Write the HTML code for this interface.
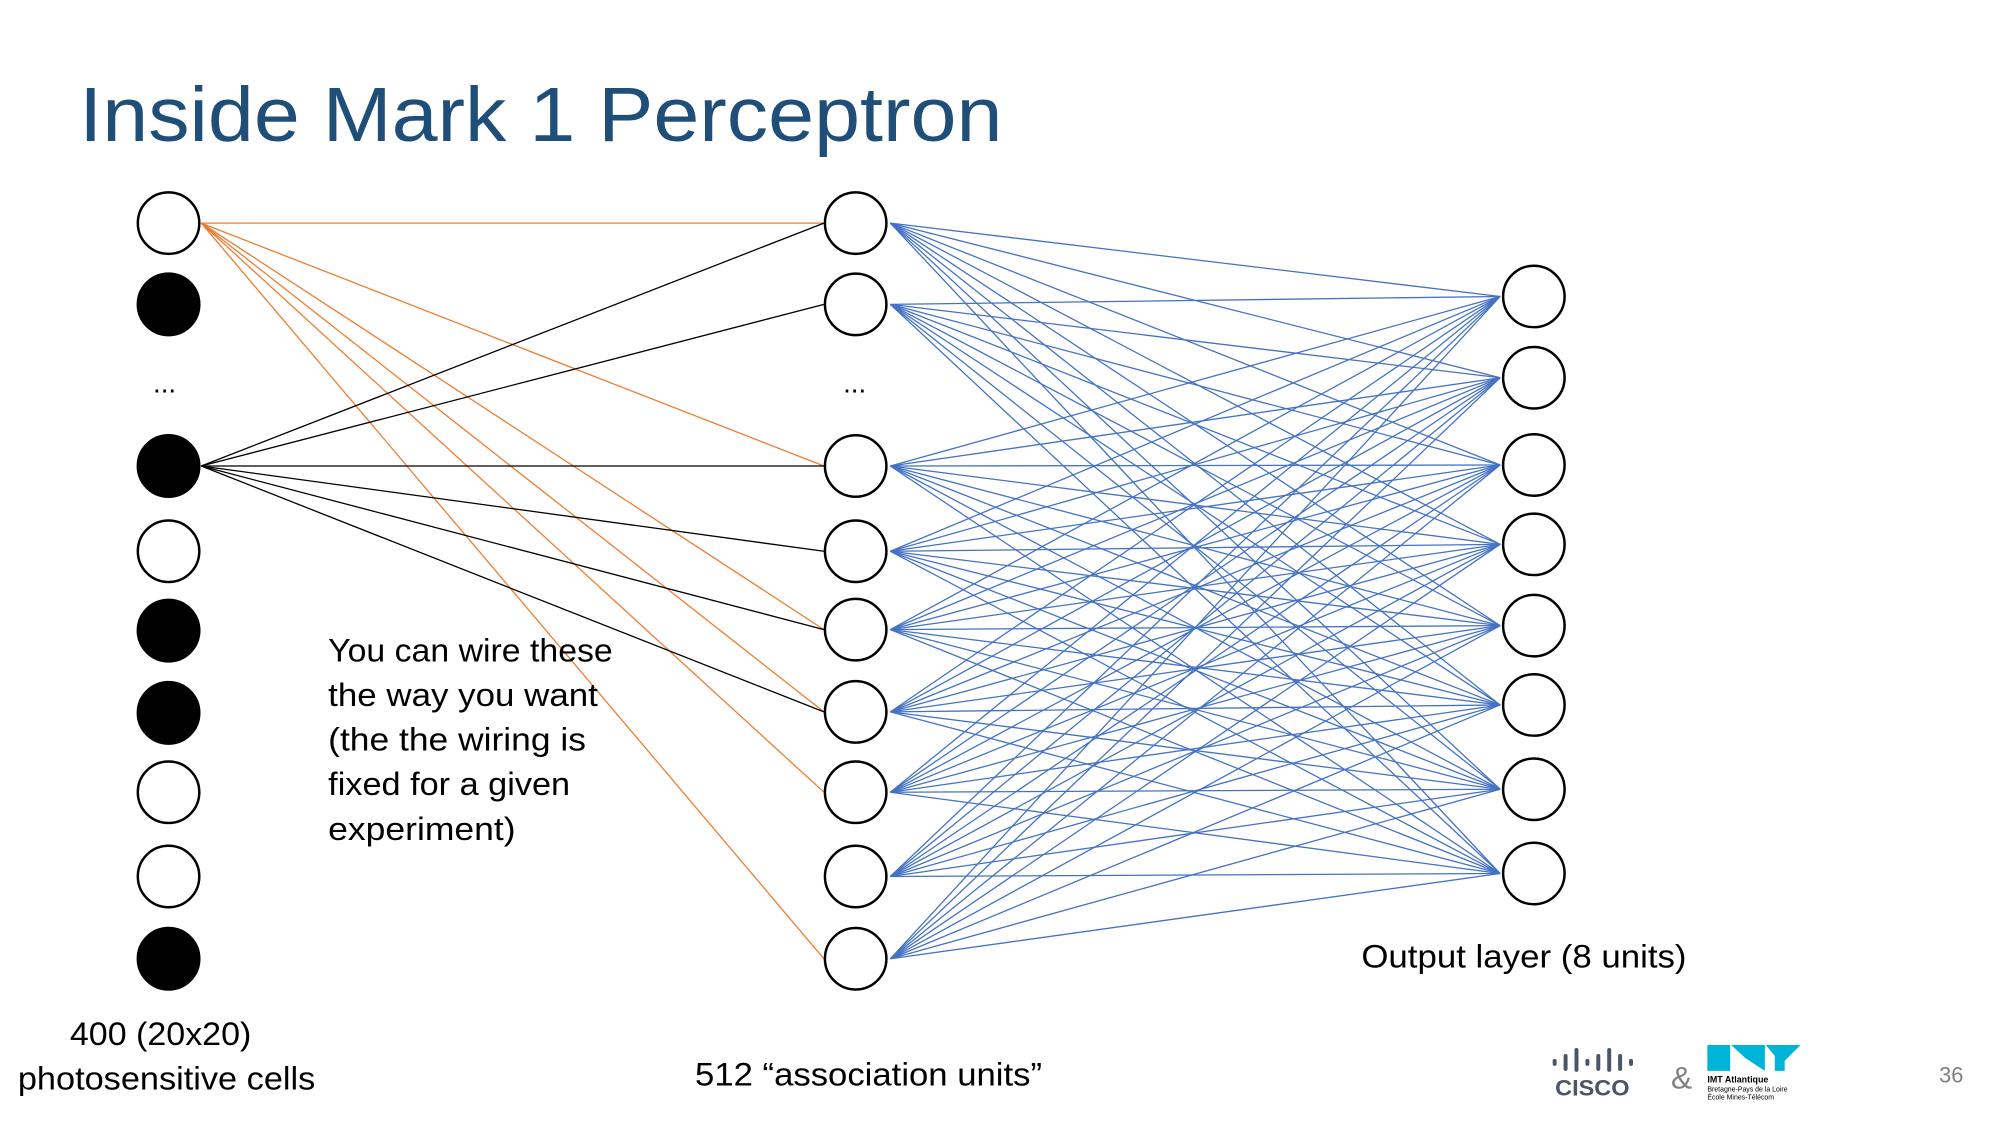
<!DOCTYPE html>
<html><head><meta charset="utf-8"><style>
html,body{margin:0;padding:0;background:#fff;}
svg{display:block;}
text{font-family:"Liberation Sans",sans-serif;}
</style></head><body>
<svg width="2000" height="1125" viewBox="0 0 2000 1125" xmlns="http://www.w3.org/2000/svg">
<g transform="scale(0.9915)">
<text x="80" y="142" font-size="78" fill="#1F4E79" textLength="931" lengthAdjust="spacingAndGlyphs">Inside Mark 1 Perceptron</text>
<g id="lines"></g>
<g id="nodes"></g>
<text x="166" y="396" font-size="28" text-anchor="middle">...</text>
<text x="862" y="396" font-size="28" text-anchor="middle">...</text>
<g font-size="33" fill="#000">
<text x="331" y="667" textLength="287" lengthAdjust="spacingAndGlyphs">You can wire these</text>
<text x="331" y="712" textLength="272" lengthAdjust="spacingAndGlyphs">the way you want</text>
<text x="331" y="757" textLength="260" lengthAdjust="spacingAndGlyphs">(the the wiring is</text>
<text x="331" y="802" textLength="244" lengthAdjust="spacingAndGlyphs">fixed for a given</text>
<text x="331" y="847" textLength="189" lengthAdjust="spacingAndGlyphs">experiment)</text>
<text x="162" y="1054" text-anchor="middle" textLength="183" lengthAdjust="spacingAndGlyphs">400 (20x20)</text>
<text x="168" y="1099" text-anchor="middle" textLength="300" lengthAdjust="spacingAndGlyphs">photosensitive cells</text>
<text x="876" y="1095" text-anchor="middle" textLength="350" lengthAdjust="spacingAndGlyphs">512 “association units”</text>
<text x="1537" y="976" text-anchor="middle" textLength="328" lengthAdjust="spacingAndGlyphs">Output layer (8 units)</text>
</g>
<text x="1968" y="1092" font-size="22" fill="#7f7f7f" text-anchor="middle">36</text>
<g transform="translate(15,5)">
<g fill="#4a5568">
<rect x="1551" y="1063" width="4" height="7" rx="2"/><rect x="1562" y="1058" width="4" height="17" rx="2"/>
<rect x="1573" y="1052" width="4" height="24" rx="2"/><rect x="1584" y="1063" width="4" height="7" rx="2"/>
<rect x="1595" y="1058" width="4" height="17" rx="2"/><rect x="1606" y="1052" width="4" height="24" rx="2"/>
<rect x="1617" y="1058" width="4" height="17" rx="2"/><rect x="1628" y="1063" width="4" height="7" rx="2"/>
<text x="1591" y="1100" font-size="22" font-weight="bold" text-anchor="middle" textLength="75" lengthAdjust="spacingAndGlyphs">CISCO</text>
</g>
<text x="1681" y="1093" font-size="32" fill="#808080" text-anchor="middle">&amp;</text>
<polygon points="1707,1049 1730,1049 1730,1075 1707,1075" fill="#00B4D8"/>
<polygon points="1731,1049 1765,1049 1765,1075 1745,1062" fill="#00B4D8"/>
<polygon points="1766,1049 1801,1049 1785,1065 1785,1075 1775,1075 1775,1060" fill="#00B4D8"/>
<text x="1707" y="1087" font-size="9" font-weight="bold">IMT Atlantique</text>
<text x="1707" y="1096" font-size="7">Bretagne-Pays de la Loire</text>
<text x="1707" y="1104" font-size="7">École Mines-Télécom</text>
</g>
</g>
</svg>
<script>
const NS="http://www.w3.org/2000/svg";
const L=[225,307,470,556,636,719,799,884,967];
const M=[225,307,470,556,635,718,799,884,967];
const R=[299,381,469,549,631,711,796,881];
const lines=document.getElementById('lines'),nodes=document.getElementById('nodes');
function ln(x1,y1,x2,y2,c,w){const l=document.createElementNS(NS,'line');l.setAttribute('x1',x1);l.setAttribute('y1',y1);l.setAttribute('x2',x2);l.setAttribute('y2',y2);l.setAttribute('stroke',c);l.setAttribute('stroke-width',w);lines.appendChild(l);}
M.forEach(my=>R.forEach(ry=>ln(898,my,1513,ry,'#4472C4',1.3)));
[0,2,4,5,6,8].forEach(i=>ln(203,225,831,M[i],'#ED7D31',1.3));
[0,1,2,3,4,5].forEach(i=>ln(203,470,831,M[i],'#000',1.3));
function circ(x,y,fill){const c=document.createElementNS(NS,'ellipse');c.setAttribute('cx',x);c.setAttribute('cy',y);c.setAttribute('rx',31);c.setAttribute('ry',31);c.setAttribute('fill',fill);c.setAttribute('stroke','#000');c.setAttribute('stroke-width',2.5);nodes.appendChild(c);}
const filled=[false,true,true,false,true,true,false,false,true];
L.forEach((y,i)=>circ(170,y,filled[i]?'#000':'#fff'));
M.forEach(y=>circ(863,y,'#fff'));
R.forEach(y=>circ(1547,y,'#fff'));
</script>
</body></html>
